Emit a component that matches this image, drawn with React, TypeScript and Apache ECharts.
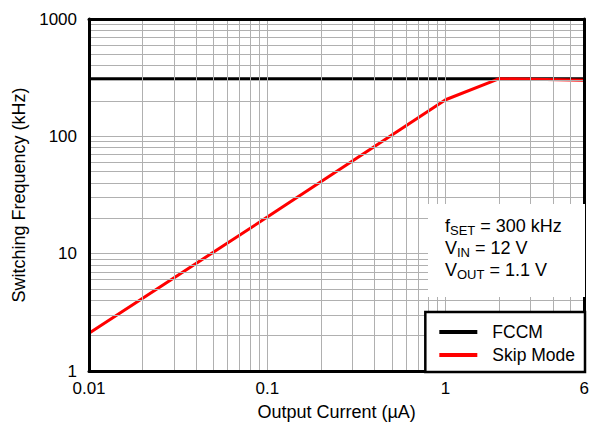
import React, { useEffect, useRef } from "react";
import * as echarts from "echarts";

const xTickLabels = [0.01, 0.1, 1, 6];
const yTickLabels = [1, 10, 100, 1000];
const fccmX = [0.01, 6];
const fccmY = [310, 310];
const skipX = [0.01, 0.1, 1, 2, 6];
const skipY = [2.1, 20.5, 205, 310, 300];
const xGridValues = [0.02, 0.03, 0.04, 0.05, 0.06, 0.07, 0.08, 0.09, 0.1, 0.2, 0.3, 0.4, 0.5, 0.6, 0.7, 0.8, 0.9, 1, 2, 3, 4, 5];
const yGridValues = [2, 3, 4, 5, 6, 7, 8, 9, 10, 20, 30, 40, 50, 60, 70, 80, 90, 100, 200, 300, 400, 500, 600, 700, 800, 900];
const seriesNames = ["FCCM", "Skip Mode"];
const annotationLines = [
  ["f", "SET", " = 300 kHz"],
  ["V", "IN", " = 12 V"],
  ["V", "OUT", " = 1.1 V"],
];

const FONT = "'Liberation Sans', Arial, Helvetica, sans-serif";

export default function App() {
  const ref = useRef<HTMLDivElement>(null);
  useEffect(() => {
    if (!ref.current) return;
    const chart = echarts.init(ref.current, undefined, { renderer: "svg" });
    const fmt = (v: number) => String(Number(Number(v).toPrecision(6)));
    const gridColor = "#b0b0b0";
    const frameLine = { show: true, lineStyle: { color: "#000", width: 3 } };
    const richText = annotationLines
      .map((l) => `{m|${l[0]}}{s|${l[1]}}{m|${l[2]}}`)
      .join("\n");
    const xBase = {
      type: "log",
      logBase: 10,
      min: xTickLabels[0],
      max: xTickLabels[xTickLabels.length - 1],
    };
    const yBase = {
      type: "log",
      logBase: 10,
      min: yTickLabels[0],
      max: yTickLabels[yTickLabels.length - 1],
    };
    chart.setOption({
      animation: false,
      textStyle: { fontFamily: FONT },
      grid: { left: 89, right: 7, top: 19, bottom: 54 },
      xAxis: [
        {
          ...xBase,
          position: "bottom",
          z: 10,
          name: "Output Current (µA)",
          nameLocation: "middle",
          nameGap: 32,
          nameTextStyle: { fontSize: 18, color: "#000", fontFamily: FONT },
          axisLine: frameLine,
          axisTick: { show: false },
          axisLabel: {
            fontSize: 17,
            color: "#000",
            margin: 9,
            fontFamily: FONT,
            formatter: (v: number) => fmt(v),
            showMinLabel: true,
            showMaxLabel: true,
          },
          splitLine: { show: false },
        },
        {
          ...xBase,
          position: "top",
          z: 10,
          axisLine: frameLine,
          axisTick: { show: false },
          axisLabel: { show: false },
          splitLine: { show: false },
        },
      ],
      yAxis: [
        {
          ...yBase,
          position: "left",
          z: 10,
          name: "Switching Frequency (kHz)",
          nameLocation: "middle",
          nameGap: 61,
          nameTextStyle: { fontSize: 18, color: "#000", fontFamily: FONT },
          axisLine: frameLine,
          axisTick: { show: false },
          axisLabel: {
            fontSize: 17,
            color: "#000",
            margin: 12,
            fontFamily: FONT,
            formatter: (v: number) => fmt(v),
          },
          splitLine: { show: false },
        },
        {
          ...yBase,
          position: "right",
          z: 10,
          axisLine: frameLine,
          axisTick: { show: false },
          axisLabel: { show: false },
          splitLine: { show: false },
        },
      ],
      legend: {
        data: seriesNames,
        orient: "vertical",
        right: 7,
        bottom: 54,
        backgroundColor: "#fff",
        borderColor: "#000",
        borderWidth: 2.5,
        borderRadius: 0,
        padding: [11, 10, 8, 14],
        itemGap: 5,
        itemWidth: 38,
        itemHeight: 4,
        icon: "rect",
        textStyle: { fontSize: 17.5, color: "#000", fontFamily: FONT, padding: [0, 0, 0, 10] },
        z: 20,
      },
      graphic: [
        {
          type: "rect",
          left: 428,
          top: 204,
          z: 15,
          shape: { x: 0, y: 0, width: 157, height: 93 },
          style: { fill: "#fff" },
        },
        {
          type: "text",
          left: 445,
          top: 217,
          z: 16,
          style: {
            text: richText,
            fill: "#000",
            font: `18px ${FONT}`,
            rich: {
              m: { fontSize: 18, lineHeight: 22, verticalAlign: "middle", fontFamily: FONT, fill: "#000" },
              s: { fontSize: 13, lineHeight: 11, verticalAlign: "bottom", fontFamily: FONT, fill: "#000" },
            },
          },
        },
      ],
      series: [
        {
          name: "grid",
          type: "line",
          data: [[xTickLabels[0], yTickLabels[0]]],
          symbol: "none",
          lineStyle: { opacity: 0 },
          silent: true,
          z: 1,
          markLine: {
            silent: true,
            symbol: "none",
            label: { show: false },
            lineStyle: { color: gridColor, width: 1, type: "solid" },
            data: [
              ...xGridValues.map((v) => ({ xAxis: v })),
              ...yGridValues.map((v) => ({ yAxis: v })),
            ],
          },
        },
        {
          name: seriesNames[0],
          type: "line",
          data: fccmX.map((x, i) => [x, fccmY[i]]),
          symbol: "none",
          showSymbol: false,
          lineStyle: { color: "#000", width: 3 },
          itemStyle: { color: "#000" },
          z: 3,
        },
        {
          name: seriesNames[1],
          type: "line",
          data: skipX.map((x, i) => [x, skipY[i]]),
          symbol: "none",
          showSymbol: false,
          lineStyle: { color: "#ff0000", width: 3 },
          itemStyle: { color: "#ff0000" },
          z: 4,
        },
      ],
    });
    return () => chart.dispose();
  }, []);
  return <div ref={ref} style={{ width: 592, height: 426, position: "absolute", left: 0, top: 0 }} />;
}
